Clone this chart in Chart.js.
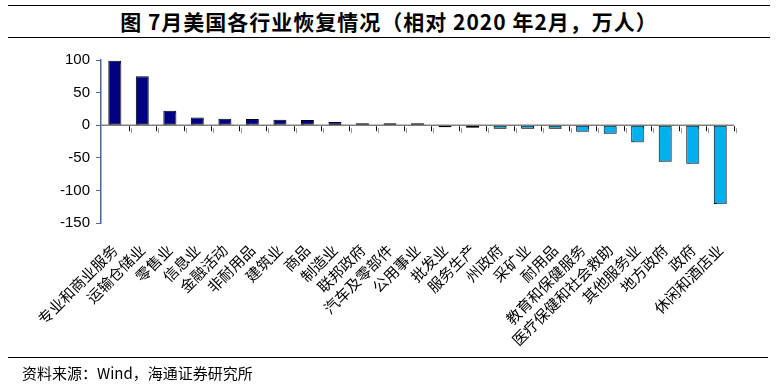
<!DOCTYPE html>
<html>
<head>
<meta charset="utf-8">
<script src="https://cdn.jsdelivr.net/npm/chart.js@4"></script>
<style>
    html, body { margin: 0; padding: 0; background: #fff; }
    #wrap { position: relative; width: 777px; height: 389px; overflow: hidden; }
    #title {
        position: absolute; left: 8px; right: 7px; top: 5px; height: 31px;
        border-top: 1px solid #000; border-bottom: 1px solid #000;
        text-align: center; line-height: 31px; letter-spacing: 1px;
        font: bold 21px "Noto Sans CJK SC", sans-serif; color: #000;
    }
    #source {
        position: absolute; left: 8px; right: 9px; top: 357px;
        border-top: 1px solid #000; padding-left: 14px;
        font: 15px "Noto Sans CJK SC", sans-serif; line-height: 30px; color: #000;
    }
    canvas { position: absolute; left: 0; top: 0; }
</style>
</head>
<body>
<div id="wrap">
    <div id="title">图 7月美国各行业恢复情况（相对 2020 年2月，万人）</div>
    <canvas id="chart-industry" width="777" height="389"></canvas>
    <div id="source">资料来源：Wind，海通证券研究所</div>
</div>
<script>
"use strict";

const industries = ['专业和商业服务', '运输仓储业', '零售业', '信息业', '金融活动', '非耐用品', '建筑业', '商品', '制造业', '联邦政府',
    '汽车及零部件', '公用事业', '批发业', '服务生产', '州政府', '采矿业', '耐用品', '教育和保健服务', '医疗保健和社会救助', '其他服务业',
    '地方政府', '政府', '休闲和酒店业'];
const recovery = [99, 75, 22, 12, 10, 9.5, 8.5, 8, 5, 1.2,
    0.6, 0.5, -0.8, -4, -5.5, -5.5, -5.5, -10, -13, -26,
    -56, -59, -121];
const yTicks = [100, 50, 0, -50, -100, -150];

// grey zero line under the bars, small black ticks between categories on top
const zeroTicks = {
    id: 'zeroTicks',
    beforeDatasetsDraw(chart) {
        const x = chart.scales.x, y = chart.scales.y;
        const ctx = chart.ctx;
        const y0 = y.getPixelForValue(0);
        ctx.save();
        ctx.strokeStyle = '#808080';
        ctx.lineWidth = 1.5;
        ctx.beginPath();
        ctx.moveTo(x.left, y0);
        ctx.lineTo(x.right, y0);
        ctx.stroke();
        ctx.restore();
    },
    afterDatasetsDraw(chart) {
        const x = chart.scales.x, y = chart.scales.y;
        const ctx = chart.ctx;
        const y0 = y.getPixelForValue(0);
        const n = industries.length;
        ctx.save();
        ctx.strokeStyle = '#000';
        ctx.lineWidth = 1;
        ctx.beginPath();
        for (let i = 1; i <= n; i++) {
            const px = Math.round(x.left + i * (x.right - x.left) / n) + 0.5;
            ctx.moveTo(px, y0 + 1);
            ctx.lineTo(px, y0 + 6);
        }
        ctx.stroke();
        ctx.restore();
    }
};

// grey drop shadow on bars
const barShadow = {
    id: 'barShadow',
    beforeDatasetsDraw(chart) {
        const ctx = chart.ctx;
        ctx.save();
        ctx.shadowColor = 'rgba(128,128,128,0.8)';
        ctx.shadowOffsetX = 2;
        ctx.shadowOffsetY = 2;
        ctx.shadowBlur = 0;
    },
    afterDatasetsDraw(chart) {
        chart.ctx.restore();
    }
};

new Chart(document.getElementById('chart-industry').getContext('2d'), {
    type: 'bar',
    data: {
        labels: industries,
        datasets: [{
            data: recovery,
            backgroundColor: recovery.map(v => v > -1 ? '#000080' : '#00B0F0'),
            borderColor: '#000',
            borderWidth: 1,
            borderSkipped: false,
            minBarLength: 2,
            categoryPercentage: 1,
            barPercentage: 0.47,
        }]
    },
    options: {
        responsive: false,
        animation: false,
        layout: {
            padding: { top: 60, right: 43, left: 0, bottom: 0 }
        },
        plugins: {
            legend: { display: false },
            tooltip: { enabled: false },
        },
        scales: {
            x: {
                grid: { display: false },
                border: { display: false },
                ticks: {
                    autoSkip: false,
                    maxRotation: 45,
                    minRotation: 45,
                    padding: 10,
                    color: '#000',
                    font: { family: '"Noto Sans CJK SC"', size: 15 },
                },
                afterFit(scale) { scale.height = 166; }
            },
            y: {
                min: -150,
                max: 100,
                afterBuildTicks(scale) {
                    scale.ticks = yTicks.map(v => ({ value: v }));
                },
                grid: {
                    drawOnChartArea: false,
                    drawTicks: true,
                    tickLength: 5,
                    color: '#4A6896',
                },
                border: { display: true, color: '#4A6896', width: 1.5 },
                ticks: {
                    padding: 6,
                    color: '#000',
                    font: { family: '"Liberation Sans"', size: 15 },
                },
                afterFit(scale) { scale.width = 101; }
            }
        }
    },
    plugins: [zeroTicks, barShadow]
});
</script>
</body>
</html>
